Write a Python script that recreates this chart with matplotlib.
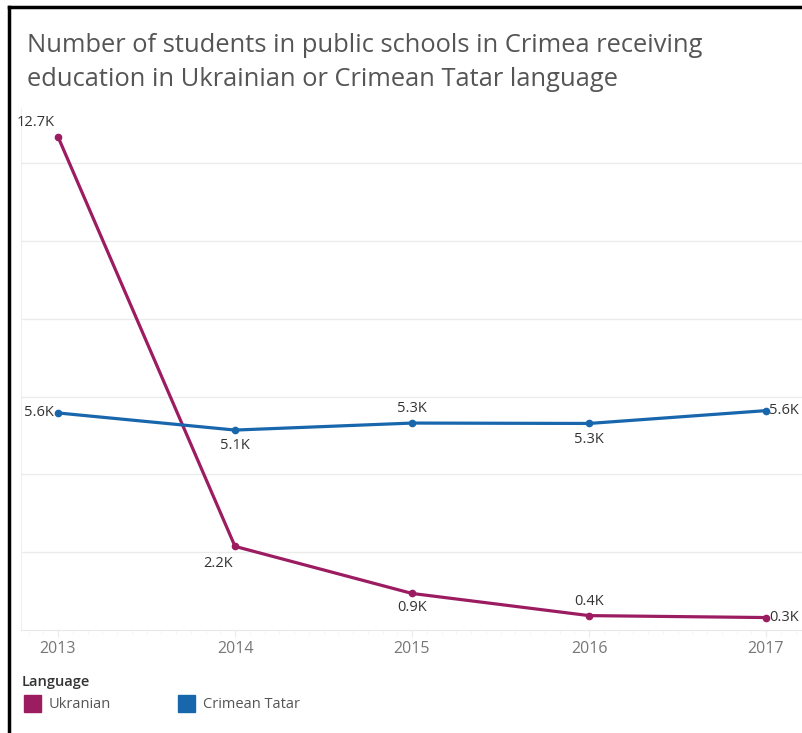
import matplotlib.pyplot as plt
from matplotlib.patches import Rectangle
from matplotlib.lines import Line2D

years = [2013, 2014, 2015, 2016, 2017]
ukrainian = [12.68, 2.15, 0.94, 0.37, 0.32]
crimean_tatar = [5.58, 5.14, 5.32, 5.31, 5.64]
uk_labels = ["12.7K", "2.2K", "0.9K", "0.4K", "0.3K"]
ct_labels = ["5.6K", "5.1K", "5.3K", "5.3K", "5.6K"]

uk_color = "#9c1c62"
ct_color = "#1866ac"
text_color = "#333333"
grid_color = "#ebebeb"

plt.rcParams["font.family"] = ["Open Sans", "DejaVu Sans"]

fig = plt.figure(figsize=(8.02, 7.33), dpi=100)
ax = fig.add_axes([21 / 802, 1 - 630 / 733, 1 - 21 / 802, (630 - 108) / 733])

ax.plot(years, ukrainian, color=uk_color, lw=2.3, marker="o", ms=4.5, zorder=3)
ax.plot(years, crimean_tatar, color=ct_color, lw=2.3, marker="o", ms=4.5, zorder=3)

ax.set_xlim(2013 - 37 / 177, 2017 + 36 / 177)
ax.set_ylim(0, 13.42)
ax.set_yticks([2, 4, 6, 8, 10, 12])
ax.yaxis.grid(True, color=grid_color, lw=1)
ax.tick_params(axis="y", left=False, labelleft=False)
ax.set_xticks(years)
ax.set_xticklabels([str(y) for y in years])
ax.set_xticks([2013 + i / 12 for i in range(-2, 51)], minor=True)
ax.tick_params(axis="x", which="major", length=5, color=grid_color, labelsize=11.5,
               labelcolor="#777777", pad=3)
ax.tick_params(axis="x", which="minor", length=3, color="#f2f2f2")
for side in ["top", "right"]:
    ax.spines[side].set_visible(False)
ax.spines["left"].set_color("#f0f0f0")
ax.spines["bottom"].set_color("#e8e8e8")

lab = dict(fontsize=10.5, color=text_color)
# Ukrainian labels
ax.annotate(uk_labels[0], (years[0], ukrainian[0]), xytext=(-16, 5), textcoords="offset points", ha="center", va="bottom", **lab)
ax.annotate(uk_labels[1], (years[1], ukrainian[1]), xytext=(-12, -7), textcoords="offset points", ha="center", va="top", **lab)
ax.annotate(uk_labels[2], (years[2], ukrainian[2]), xytext=(0, -5), textcoords="offset points", ha="center", va="top", **lab)
ax.annotate(uk_labels[3], (years[3], ukrainian[3]), xytext=(0, 5), textcoords="offset points", ha="center", va="bottom", **lab)
ax.annotate(uk_labels[4], (years[4], ukrainian[4]), xytext=(2, 0), textcoords="offset points", ha="left", va="center", **lab)
# Crimean Tatar labels
ax.annotate(ct_labels[0], (years[0], crimean_tatar[0]), xytext=(-3, 0), textcoords="offset points", ha="right", va="center", **lab)
ax.annotate(ct_labels[1], (years[1], crimean_tatar[1]), xytext=(0, -6), textcoords="offset points", ha="center", va="top", **lab)
ax.annotate(ct_labels[2], (years[2], crimean_tatar[2]), xytext=(0, 5), textcoords="offset points", ha="center", va="bottom", **lab)
ax.annotate(ct_labels[3], (years[3], crimean_tatar[3]), xytext=(0, -6), textcoords="offset points", ha="center", va="top", **lab)
ax.annotate(ct_labels[4], (years[4], crimean_tatar[4]), xytext=(2, 0), textcoords="offset points", ha="left", va="center", **lab)

# title
fig.text(27 / 802, 1 - 33 / 733,
         "Number of students in public schools in Crimea receiving\neducation in Ukrainian or Crimean Tatar language",
         ha="left", va="top", fontsize=18.4, color="#555555", linespacing=1.45)

# legend
fig.text(22 / 802, 1 - 682 / 733, "Language", ha="left", va="center", fontsize=10.5,
         color=text_color, fontweight="semibold")
for x0, name, col in [(24, "Ukranian", uk_color), (178, "Crimean Tatar", ct_color)]:
    fig.patches.append(Rectangle((x0 / 802, 1 - 712 / 733), 17 / 802, 17 / 733,
                                 transform=fig.transFigure, color=col))
    fig.text((x0 + 25) / 802, 1 - 704 / 733, name, ha="left", va="center",
             fontsize=10.5, color="#555555")

# outer frame (left and top edges visible)
fig.add_artist(Line2D([9 / 802, 9 / 802], [0, 1 - 7 / 733], transform=fig.transFigure, color="black", lw=2.5))
fig.add_artist(Line2D([9 / 802, 1], [1 - 7 / 733, 1 - 7 / 733], transform=fig.transFigure, color="black", lw=2.5))

fig.savefig("out.png", dpi=100)
